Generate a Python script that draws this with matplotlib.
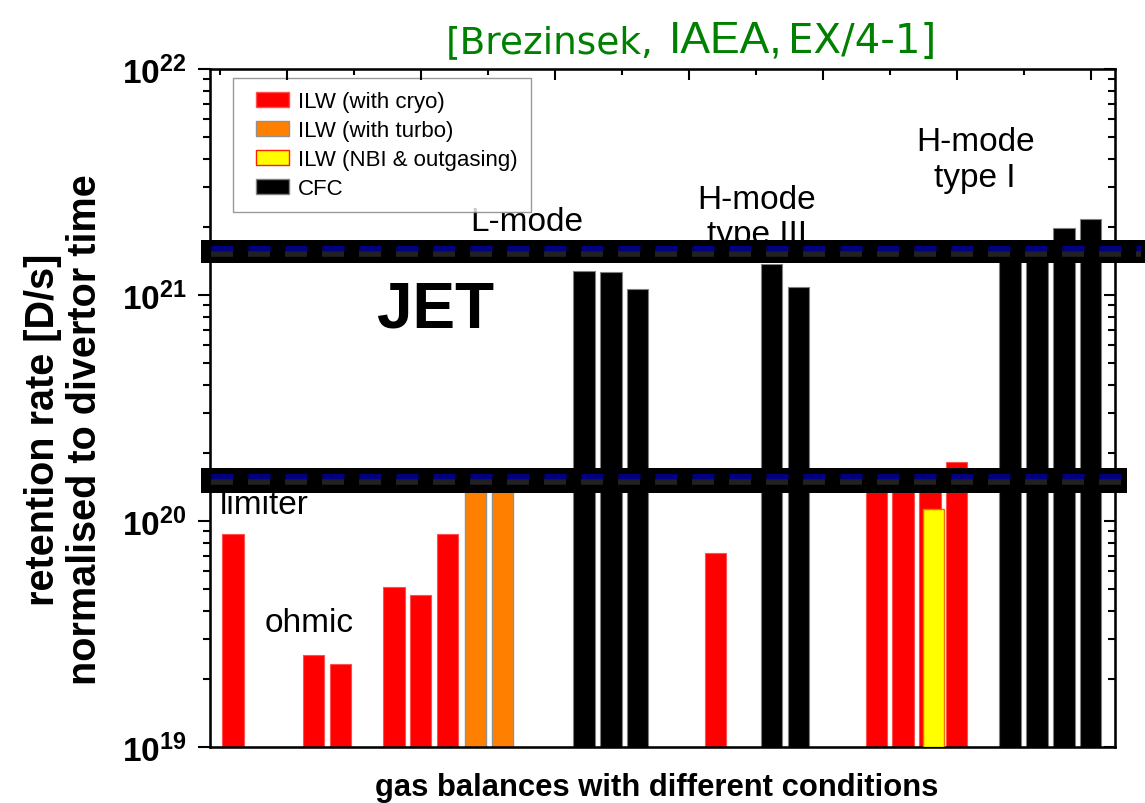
import matplotlib
matplotlib.use("Agg")
import matplotlib.pyplot as plt
from matplotlib.patches import Patch, Rectangle
from matplotlib.legend_handler import HandlerPatch
from matplotlib.ticker import LogLocator, FixedLocator, NullFormatter


plt.rcParams["font.family"] = ["Liberation Sans", "DejaVu Sans"]
plt.rcParams["mathtext.fontset"] = "custom"
plt.rcParams["mathtext.rm"] = "Liberation Sans"
plt.rcParams["mathtext.bf"] = "Liberation Sans:bold"

# bar slots along the x axis and retention rates [D/s]
cryo_x = [0, 3, 4, 6, 7, 8, 18, 24, 25, 26, 27]
cryo_y = [8.8e19, 2.56e19, 2.33e19, 5.1e19, 4.7e19, 8.8e19, 7.2e19,
          1.55e20, 1.55e20, 1.55e20, 1.83e20]

turbo_x = [9.05, 10.05]
turbo_y = [1.55e20, 1.55e20]

nbi_x = [26.13]
nbi_y = [1.13e20]

cfc_x = [13.1, 14.1, 15.1, 20.1, 21.1, 29, 30, 31, 32]
cfc_y = [1.28e21, 1.26e21, 1.06e21, 1.37e21, 1.09e21,
         1.6e21, 1.6e21, 1.97e21, 2.18e21]

legend_labels = ["ILW (with cryo)", "ILW (with turbo)",
                 "ILW (NBI & outgasing)", "CFC"]
ytick_values = [1e19, 1e20, 1e21, 1e22]
ytick_labels = [r"$\mathbf{10^{19}}$", r"$\mathbf{10^{20}}$",
                r"$\mathbf{10^{21}}$", r"$\mathbf{10^{22}}$"]


def inset_patch(legend, orig_handle, xdescent, ydescent, width, height, fontsize):
    # leave some blank space left of the legend swatch
    gap = 7.0
    return Rectangle((-xdescent + gap, -ydescent), width - gap, height)


W, H = 1145, 804
fig = plt.figure(figsize=(W / 100, H / 100), dpi=100)
ax = fig.add_axes([210 / W, 1 - 748 / H, 905 / W, 678 / H])

bar_w = 0.8
ax.bar(cryo_x, cryo_y, width=bar_w, color="#ff0000", edgecolor="#ff5050", linewidth=0.8)
ax.bar(turbo_x, turbo_y, width=bar_w, color="#ff8000", edgecolor="#909090", linewidth=1.0)
ax.bar(nbi_x, nbi_y, width=0.78, color="#ffff00", edgecolor="#f07000", linewidth=1.0, zorder=3)
ax.bar(cfc_x, cfc_y, width=bar_w, color="black", edgecolor="#808080", linewidth=0.8)

ax.set_yscale("log")
ax.set_ylim(1e19, 1e22)
ax.set_xlim(-0.86, 32.91)

ax.yaxis.set_major_locator(FixedLocator(ytick_values))
ax.yaxis.set_major_formatter(plt.FixedFormatter(ytick_labels))
ax.yaxis.set_minor_locator(LogLocator(base=10, subs=range(2, 10)))
ax.yaxis.set_minor_formatter(NullFormatter())
ax.tick_params(axis="y", which="major", direction="out", length=9, width=1.5,
               labelsize=24, pad=8)
ax.tick_params(axis="y", which="minor", direction="out", length=5, width=1.5)
for s in ax.spines.values():
    s.set_linewidth(1.8)

# inward ticks on the right and top
axr = ax.twinx()
axr.set_yscale("log")
axr.set_ylim(1e19, 1e22)
axr.yaxis.set_major_locator(FixedLocator(ytick_values))
axr.yaxis.set_minor_locator(LogLocator(base=10, subs=range(2, 10)))
axr.tick_params(axis="y", which="major", direction="in", length=8, width=1.5, labelright=False)
axr.tick_params(axis="y", which="minor", direction="in", length=5, width=1.5)

axt = ax.twiny()
axt.set_xlim(ax.get_xlim())
axt.set_xticks([2, 7, 12, 17, 22, 27, 32])
axt.set_xticks([-0.5, 4.5, 9.5, 14.5, 19.5, 24.5, 29.5], minor=True)
axt.tick_params(axis="x", which="major", direction="in", length=8, width=1.5, labeltop=False)
axt.tick_params(axis="x", which="minor", direction="in", length=4.5, width=1.5)

# twiny turns the bottom ticks back on, so switch them off afterwards
ax.tick_params(axis="x", which="both", bottom=False, top=False,
               labelbottom=False, labeltop=False)

handles = [
    Patch(facecolor="#ff0000", edgecolor="#ff5050"),
    Patch(facecolor="#ff8000", edgecolor="#909090"),
    Patch(facecolor="#ffff00", edgecolor="#ff2000"),
    Patch(facecolor="black", edgecolor="#808080"),
]
leg = ax.legend(handles, legend_labels, loc="upper left",
                bbox_to_anchor=(0.025, 0.987), fontsize=16, frameon=True,
                fancybox=False, borderpad=0.6, handlelength=1.95,
                handleheight=0.7, handletextpad=0.4, labelspacing=0.36,
                borderaxespad=0,
                handler_map={Patch: HandlerPatch(patch_func=inset_patch)})
leg.get_frame().set_edgecolor("#808080")
leg.get_frame().set_linewidth(1.0)

ax.text(10.97, 10 ** 21.327, "L-mode", fontsize=24, ha="center", va="center")
ax.text(19.55, 10 ** 21.345, "H-mode\ntype III", fontsize=24, ha="center",
        va="center", linespacing=1.2)
ax.text(27.69, 10 ** 21.60, "H-mode\ntype I", fontsize=24, ha="center",
        va="center", linespacing=1.2)
ax.text(5.37, 10 ** 20.934, "JET", fontsize=46, fontweight="bold",
        ha="left", va="center")
ax.text(-0.49, 10 ** 20.075, "limiter", fontsize=24, ha="left", va="center")
ax.text(1.19, 10 ** 19.553, "ohmic", fontsize=24, ha="left", va="center")

fig.text(64 / W, 1 - 430 / H, "retention rate [D/s]\nnormalised to divertor time",
         rotation=90, fontsize=28.5, fontweight="bold", ha="center", va="center",
         multialignment="center", linespacing=1.15)
fig.text(657 / W, 1 - 803 / H, "gas balances with different conditions",
         fontsize=22.3, fontweight="bold", ha="center", va="bottom")

# title in three sizes
green = "#008000"
fig.text(446 / W, 1 - 53 / H, "[Brezinsek,", fontsize=27, color=green,
         va="baseline", family="DejaVu Sans")
fig.text(669 / W, 1 - 53 / H, "IAEA,", fontsize=32, color=green, va="baseline")
fig.text(788 / W, 1 - 53 / H, "EX/4-1]", fontsize=29, color=green,
         va="baseline", family="DejaVu Sans")

# black break bands pasted over the chart
ov = fig.add_axes([0, 0, 1, 1], zorder=10)
ov.set_xlim(0, W)
ov.set_ylim(H, 0)
ov.axis("off")
ov.patch.set_alpha(0)
for y0, y1, x1 in [(241, 264, 1145), (469, 494, 1127)]:
    ov.add_patch(Rectangle((201, y0), x1 - 201, y1 - y0, facecolor="black",
                           edgecolor="none"))
    yc = y0 + 8
    ov.plot([211, x1 - 4], [yc + 6, yc + 6], color="#2a2a2a", lw=4.0,
            dashes=(3.96, 2.7), solid_capstyle="butt", alpha=0.8)
    ov.plot([211, x1 - 4], [yc, yc], color="#000080", lw=3.6,
            dashes=(4.4, 3.0), solid_capstyle="butt")

fig.savefig("out.png", dpi=100)
